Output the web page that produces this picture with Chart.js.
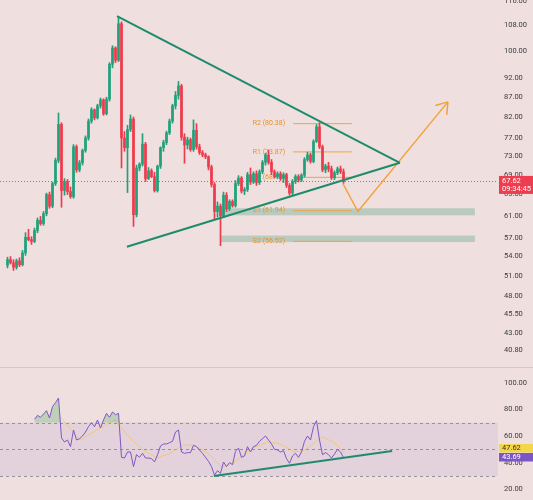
<!DOCTYPE html>
<html><head><meta charset="utf-8">
<script src="https://cdn.jsdelivr.net/npm/chart.js@4.4.1/dist/chart.umd.min.js"></script>
<style>
html,body{margin:0;padding:0;background:#efdfdf;}
#wrap{position:relative;width:533px;height:500px;overflow:hidden;background:#efdfdf;}
#pw{position:absolute;left:0;top:0;width:533px;height:367px;}
#sep{position:absolute;left:0;top:367px;width:533px;height:1px;background:#d9c7c8;}
#rw{position:absolute;left:0;top:368px;width:533px;height:132px;}
</style></head><body>
<div id="wrap">
  <div id="pw"><canvas id="pc"></canvas></div>
  <div id="sep"></div>
  <div id="rw"><canvas id="rc"></canvas></div>
</div>
<script>
// ---------- DATA ----------
const firstIndex = 2;           // bar index of the first candle
const opens  = [52.6,53.5,53.0,52.3,53.3,52.7,54.6,57.2,56.8,56.5,58.4,60.2,59.6,61.4,65.0,62.8,67.2,72.0,80.2,65.8,67.6,65.6,64.6,75.0,70.0,71.5,74.2,77.0,81.0,83.8,81.8,84.8,86.3,82.8,86.5,96.0,100.8,97.2,108.4,77.0,74.8,79.0,81.5,61.2,70.4,71.2,75.6,68.2,69.8,68.6,65.8,70.8,74.8,76.0,78.2,81.0,84.8,87.5,90.0,77.2,75.4,76.6,74.4,78.8,75.0,73.7,73.2,72.8,70.6,67.0,61.8,62.8,61.0,64.9,62.3,63.7,62.9,67.2,68.3,65.7,66.0,69.0,67.5,69.2,67.4,69.6,71.6,73.2,71.6,69.6,68.6,69.2,68.2,69.0,66.8,65.3,67.6,68.6,67.9,68.9,72.2,73.2,71.8,76.2,79.6,75.0,70.0,70.8,70.2,68.4,69.4,70.2,69.6];
const highs  = [53.9,54.0,53.5,53.6,53.8,55.0,58.0,58.6,57.3,58.8,60.6,60.9,61.8,65.3,65.5,67.5,72.5,83.0,80.6,68.2,68.0,66.5,75.5,75.4,72.0,74.5,77.5,81.5,84.3,84.0,85.2,86.8,86.6,87.0,96.5,101.5,101.2,110.6,109.0,78.5,80.0,82.5,82.0,71.0,71.5,78.0,76.0,70.5,70.2,69.5,71.0,75.0,76.5,78.6,81.5,85.2,88.5,91.2,90.4,78.0,77.2,77.0,81.3,80.4,75.6,74.2,73.6,73.0,71.0,67.4,63.6,63.2,65.5,65.4,64.0,64.0,67.8,68.8,68.6,66.4,69.5,70.4,69.6,69.8,70.0,72.0,73.6,74.2,72.2,70.0,69.6,69.6,69.4,69.3,67.2,68.0,69.0,69.0,69.2,72.6,73.8,73.6,76.6,80.2,80.6,75.4,71.2,71.6,70.8,69.8,70.6,70.8,70.2];
const lows   = [52.2,52.8,51.8,52.0,52.4,52.5,54.2,56.6,56.0,56.3,58.0,59.3,59.3,61.0,62.4,62.5,66.8,71.5,62.6,64.9,65.0,64.3,64.3,69.5,69.6,71.0,73.8,76.5,80.5,81.3,81.5,84.2,82.4,82.5,86.0,95.0,96.5,96.8,70.4,74.0,65.4,78.5,59.1,60.8,69.8,70.8,67.6,68.0,68.4,65.5,65.5,70.3,74.0,75.5,77.8,80.5,84.0,86.5,76.5,71.4,74.5,74.0,74.0,74.5,73.3,72.8,72.4,70.0,66.5,60.5,60.8,55.8,60.7,61.8,62.0,62.6,62.6,66.8,65.3,65.0,65.6,67.0,67.2,66.8,67.0,69.2,71.0,71.2,69.0,68.3,68.2,67.8,67.4,66.4,64.9,65.0,67.2,67.5,67.6,68.5,71.8,71.4,71.5,76.0,74.6,69.6,69.4,69.6,68.0,68.0,69.0,69.2,67.2];
const closes = [53.5,53.0,52.3,53.3,52.7,54.6,57.2,56.8,56.5,58.4,60.2,59.6,61.4,65.0,62.8,67.2,72.0,80.2,65.8,67.6,65.6,64.6,75.0,70.0,71.5,74.2,77.0,81.0,83.8,81.8,84.8,86.3,82.8,86.5,96.0,100.8,97.2,108.4,77.0,74.8,79.0,81.5,61.2,70.4,71.2,75.6,68.2,69.8,68.6,65.8,70.8,74.8,76.0,78.2,81.0,84.8,87.5,90.0,77.2,75.4,76.6,74.4,78.8,75.0,73.7,73.2,72.8,70.6,67.0,61.8,62.8,61.0,64.9,62.3,63.7,62.9,67.2,68.3,65.7,66.0,69.0,67.5,69.2,67.4,69.6,71.6,73.2,71.6,69.6,68.6,69.2,68.2,69.0,66.8,65.3,67.6,68.6,67.9,68.9,72.2,73.2,71.8,76.2,79.6,75.0,70.0,70.8,70.2,68.4,69.4,70.2,69.6,67.62];
const lastPrice = 67.62;
const countdown = '09:34:45';

// triangle / projection (bar index, price)
const triUpperX = [38.5, 132.8], triUpperY = [110.9, 71.5];
const triLowerX = [41.8, 132.8], triLowerY = [55.6, 71.5];
const projX = [113.8, 118.8, 148.8], projY = [67.2, 61.8, 85.8];

// pivot levels
const pivotNames  = ['R2', 'R1', 'P', 'S1', 'S2'];
const pivotValues = [80.38, 73.87, 68.45, 61.94, 56.52];
const pivotFrom = 97.2, pivotTo = 116.8;
// support zones [low, high]
const zoneLows  = [61.1, 56.4];
const zoneHighs = [62.4, 57.5];
const zoneFrom = 72.8, zoneTo = 157.8;

const priceTicks = [40.8, 43, 45.5, 48, 51, 54, 57, 61, 65, 69, 73, 77, 82, 87, 92, 100, 108, 116];

// RSI pane
const rsiFirstIndex = 11;
const rsiValues = [72.5,75.5,74,76.5,79,73.5,82,85,88.5,58.5,55.5,57,52,64.5,57,58,60,63,67,70,67,72,66,72,77,74,78,76,77,44,43.5,48,48,37,46,44,47,43.5,43.5,43,40.5,45.8,52.5,54,54,55,56,63,64.5,48,47,47.5,47.5,53,52,49.5,47,44,41,37,30.7,34,32,40.5,37,40,38.5,48.5,51,44,45,52,48,52,53,56,58,60,57,54,50,49.5,48,49,43,39.5,45,47,44,48,56,60,57,67,71.5,57,46,47.5,46,43.5,46.5,50,48,43.69];
const rsiMaX = [19.5, 26.2, 31.7, 36.7, 37.8, 42.8, 47.2, 51.8, 56.2, 60.5, 64.5, 68.8, 73.5, 77.8, 83.5, 88.8, 92.2, 97.8, 101.2, 106.8, 111.2, 114];
const rsiMaY = [74.5, 57, 64.5, 70.7, 72, 58.5, 49.5, 43.5, 47, 53.3, 53, 47, 36.7, 40.5, 51, 55.5, 54.7, 48, 49.5, 59.3, 54.8, 47.62];
const rsiTrendX = [70.8, 130.2], rsiTrendY = [30.0, 48.7];
const rsiLevels = [70, 50, 30];
const rsiTicks = [20, 40, 60, 80, 100];

// ---------- STYLE ----------
const UP = '#22a07a', DOWN = '#ee3a4c', TRI = '#1d8b6c', ORANGE = '#f2a23a';
const X_MIN = -0.5, X_MAX = 165.5;
Chart.defaults.font.family = 'Roboto, "Liberation Sans", sans-serif';
Chart.defaults.animation = false;

const pts = (xs, ys) => xs.map((x, k) => ({x, y: ys[k]}));
const candleColors = closes.map((c, k) => c >= opens[k] ? UP : DOWN);
const wickData = highs.map((h, k) => ({x: firstIndex + k, y: [lows[k], h]}));
const bodyData = closes.map((c, k) => ({x: firstIndex + k, y: [Math.min(opens[k], c), Math.max(opens[k], c)]}));

function fixAxis(scale) { scale.width = 35; scale.paddingTop = 0; scale.paddingBottom = 0; }

const lineDs = (data, color, width, order) => ({type: 'line', data, borderColor: color, borderWidth: width,
  pointRadius: 0, fill: false, tension: 0, order});

const priceDatasets = [
  lineDs(pts(triUpperX, triUpperY), TRI, 2, 0),
  lineDs(pts(triLowerX, triLowerY), TRI, 2, 0),
  lineDs(pts(projX, projY), ORANGE, 1.5, 1),
  {type: 'bar', data: bodyData, backgroundColor: candleColors, barThickness: 2, grouped: false, minBarLength: 1, borderWidth: 0, order: 5},
  {type: 'bar', data: wickData, backgroundColor: candleColors, barThickness: 1, grouped: false, borderWidth: 0, order: 6},
];
pivotValues.forEach(v => priceDatasets.push(lineDs([{x: pivotFrom, y: v}, {x: pivotTo, y: v}], 'rgba(240,160,60,0.95)', 1, 8)));

const priceExtras = {
  id: 'priceExtras',
  beforeDatasetsDraw(chart) {
    const {ctx, chartArea: a, scales: {x, y}} = chart;
    ctx.save();
    ctx.fillStyle = 'rgba(80,160,125,0.33)';
    zoneLows.forEach((lo, k) => {
      const x0 = x.getPixelForValue(zoneFrom), x1 = x.getPixelForValue(zoneTo);
      const y0 = y.getPixelForValue(zoneHighs[k]), y1 = y.getPixelForValue(lo);
      ctx.fillRect(x0, y0, x1 - x0, y1 - y0);
    });
    const yl = Math.round(y.getPixelForValue(lastPrice)) + 0.5;
    ctx.strokeStyle = 'rgba(230,60,75,0.85)';
    ctx.lineWidth = 1;
    ctx.setLineDash([1, 2]);
    ctx.beginPath(); ctx.moveTo(a.left, yl); ctx.lineTo(a.right, yl); ctx.stroke();
    ctx.setLineDash([]);
    ctx.font = '7px Roboto, "Liberation Sans", sans-serif';
    ctx.fillStyle = '#e8932a';
    ctx.textAlign = 'right'; ctx.textBaseline = 'middle';
    pivotNames.forEach((n, k) => {
      ctx.fillText(n + ' (' + pivotValues[k].toFixed(2) + ')', x.getPixelForValue(pivotFrom) - 8, y.getPixelForValue(pivotValues[k]));
    });
    ctx.restore();
  },
  afterDraw(chart) {
    const {ctx, chartArea: a, scales: {x, y}} = chart;
    ctx.save();
    // arrow head on projection
    const n = projX.length;
    const tx = x.getPixelForValue(projX[n - 1]), ty = y.getPixelForValue(projY[n - 1]);
    const px = x.getPixelForValue(projX[n - 2]), py = y.getPixelForValue(projY[n - 2]);
    const ang = Math.atan2(py - ty, px - tx);
    ctx.strokeStyle = ORANGE; ctx.lineWidth = 1.5;
    ctx.beginPath();
    [0.6, -0.6].forEach(d => { ctx.moveTo(tx, ty); ctx.lineTo(tx + 13 * Math.cos(ang + d), ty + 13 * Math.sin(ang + d)); });
    ctx.stroke();
    // last price label
    const yl = y.getPixelForValue(lastPrice);
    ctx.fillStyle = '#ee3d4f';
    ctx.fillRect(a.right + 1, yl - 5.5, chart.width - a.right - 1, 18);
    ctx.fillStyle = '#ffffff';
    ctx.font = '7.5px Roboto, "Liberation Sans", sans-serif';
    ctx.textAlign = 'left'; ctx.textBaseline = 'middle';
    ctx.fillText(lastPrice.toFixed(2), a.right + 4, yl - 0.5);
    ctx.fillText(countdown, a.right + 4, yl + 7.5);
    ctx.restore();
  }
};

new Chart(document.getElementById('pc'), {
  type: 'line',
  data: {datasets: priceDatasets},
  options: {
    responsive: true, maintainAspectRatio: false, events: [],
    layout: {padding: 0},
    plugins: {legend: {display: false}, tooltip: {enabled: false}},
    scales: {
      x: {type: 'linear', min: X_MIN, max: X_MAX, display: false, offset: false},
      y: {type: 'logarithmic', position: 'right', min: 38.8, max: 116.39,
        afterBuildTicks: s => { s.ticks = priceTicks.map(v => ({value: v})); },
        afterFit: fixAxis,
        grid: {display: false, drawTicks: false}, border: {display: false},
        ticks: {autoSkip: false, padding: 6, color: '#3b3b3f', font: {size: 7.5},
          callback: v => Number(v).toFixed(2)}}
    }
  },
  plugins: [priceExtras]
});

// ---------- RSI ----------
const rsiData = rsiValues.map((v, k) => ({x: rsiFirstIndex + k, y: v}));
const rsiExtras = {
  id: 'rsiExtras',
  beforeDatasetsDraw(chart) {
    const {ctx, chartArea: a, scales: {y}} = chart;
    ctx.save();
    const yTop = y.getPixelForValue(rsiLevels[0]), yBot = y.getPixelForValue(rsiLevels[2]);
    ctx.fillStyle = 'rgba(126,87,194,0.10)';
    ctx.fillRect(a.left, yTop, a.right - a.left, yBot - yTop);
    ctx.strokeStyle = 'rgba(120,123,134,0.75)'; ctx.lineWidth = 1;
    ctx.setLineDash([3, 3]);
    rsiLevels.forEach(l => {
      const yy = Math.round(y.getPixelForValue(l)) + 0.5;
      ctx.beginPath(); ctx.moveTo(a.left, yy); ctx.lineTo(a.right, yy); ctx.stroke();
    });
    ctx.restore();
  },
  afterDraw(chart) {
    const {ctx, chartArea: a, scales: {y}} = chart;
    ctx.save();
    const ma = rsiMaY[rsiMaY.length - 1], r = rsiValues[rsiValues.length - 1];
    const yMa = y.getPixelForValue(ma);
    const w = chart.width - a.right - 1;
    ctx.font = '7.5px Roboto, "Liberation Sans", sans-serif';
    ctx.textAlign = 'left'; ctx.textBaseline = 'middle';
    ctx.fillStyle = '#f3d64a';
    ctx.fillRect(a.right + 1, yMa - 8.5, w, 8.5);
    ctx.fillStyle = '#3a3320';
    ctx.fillText(ma.toFixed(2), a.right + 4, yMa - 4.2);
    ctx.fillStyle = '#7c55c6';
    ctx.fillRect(a.right + 1, yMa + 0.5, w, 8.5);
    ctx.fillStyle = '#ffffff';
    ctx.fillText(r.toFixed(2), a.right + 4, yMa + 4.8);
    ctx.restore();
  }
};

new Chart(document.getElementById('rc'), {
  type: 'line',
  data: {datasets: [
    lineDs(pts(rsiTrendX, rsiTrendY), TRI, 2, 0),
    {type: 'line', data: rsiData, borderColor: '#7e57c2', borderWidth: 1, pointRadius: 0, tension: 0, order: 1,
      fill: {target: {value: 70}, above: 'rgba(76,175,100,0.30)', below: 'rgba(0,0,0,0)'}},
    lineDs(pts(rsiMaX, rsiMaY), 'rgba(245,196,70,0.65)', 1, 2)
  ]},
  options: {
    responsive: true, maintainAspectRatio: false, events: [],
    layout: {padding: 0},
    plugins: {legend: {display: false}, tooltip: {enabled: false}},
    scales: {
      x: {type: 'linear', min: X_MIN, max: X_MAX, display: false, offset: false},
      y: {type: 'linear', position: 'right', min: 11.97, max: 111.03,
        afterBuildTicks: s => { s.ticks = rsiTicks.map(v => ({value: v})); },
        afterFit: fixAxis,
        grid: {display: false, drawTicks: false}, border: {display: false},
        ticks: {autoSkip: false, padding: 6, color: '#3b3b3f', font: {size: 7.5},
          callback: v => Number(v).toFixed(2)}}
    }
  },
  plugins: [rsiExtras]
});
</script>
</body></html>
